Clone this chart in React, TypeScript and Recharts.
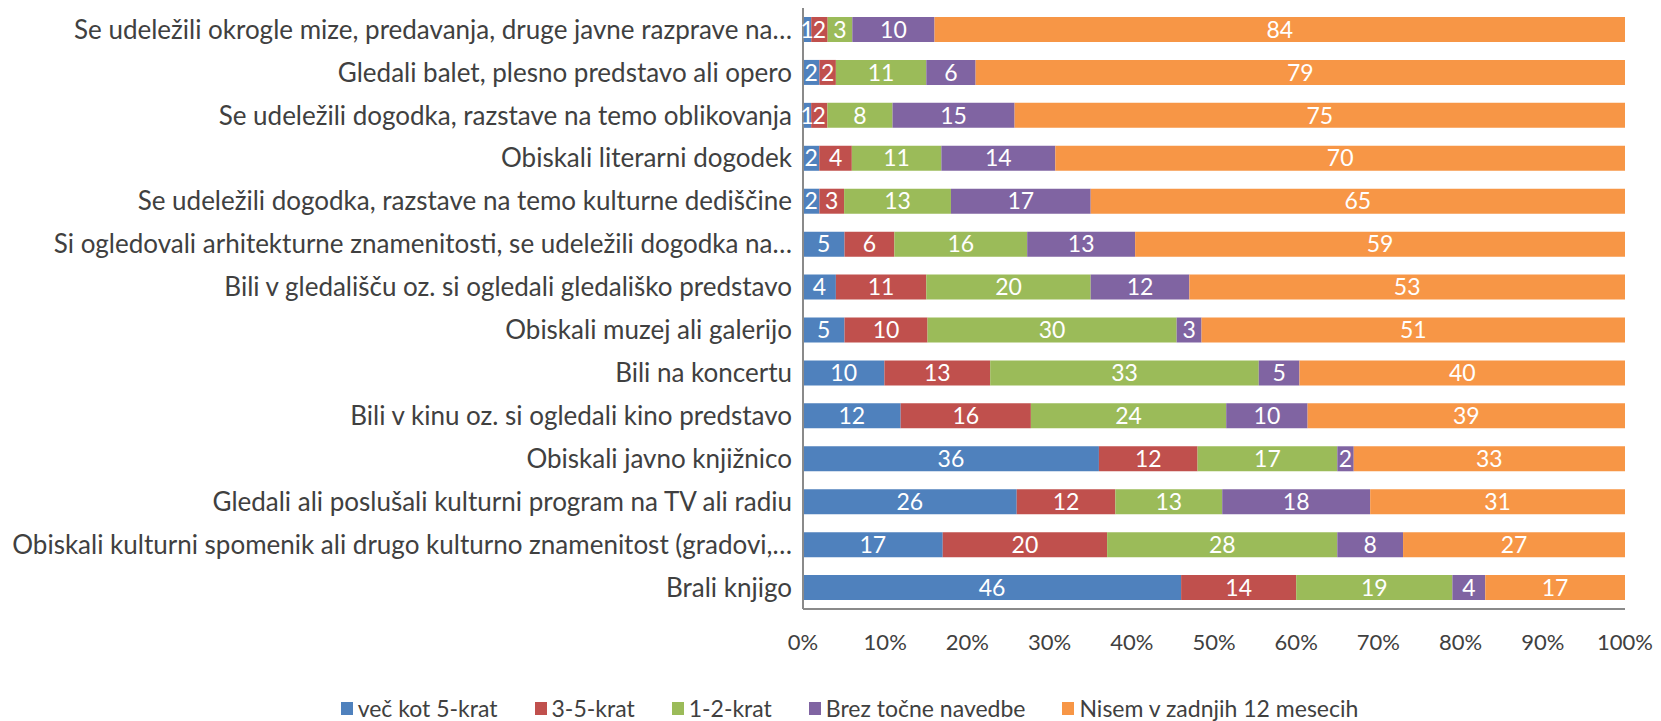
import { BarChart, Bar, XAxis, YAxis, Legend, LabelList } from "recharts"

const categories = [
  "Se udeležili okrogle mize, predavanja, druge javne razprave na…",
  "Gledali balet, plesno predstavo ali opero",
  "Se udeležili dogodka, razstave na temo oblikovanja",
  "Obiskali literarni dogodek",
  "Se udeležili dogodka, razstave na temo kulturne dediščine",
  "Si ogledovali arhitekturne znamenitosti, se udeležili dogodka na…",
  "Bili v gledališču oz. si ogledali gledališko predstavo",
  "Obiskali muzej ali galerijo",
  "Bili na koncertu",
  "Bili v kinu oz. si ogledali kino predstavo",
  "Obiskali javno knjižnico",
  "Gledali ali poslušali kulturni program na TV ali radiu",
  "Obiskali kulturni spomenik ali drugo kulturno znamenitost (gradovi,…",
  "Brali knjigo",
]

const vecKot5 = [1, 2, 1, 2, 2, 5, 4, 5, 10, 12, 36, 26, 17, 46]
const tri5 = [2, 2, 2, 4, 3, 6, 11, 10, 13, 16, 12, 12, 20, 14]
const ena2 = [3, 11, 8, 11, 13, 16, 20, 30, 33, 24, 17, 13, 28, 19]
const brez = [10, 6, 15, 14, 17, 13, 12, 3, 5, 10, 2, 18, 8, 4]
const nisem = [84, 79, 75, 70, 65, 59, 53, 51, 40, 39, 33, 31, 27, 17]

const xTicks = [0, 0.1, 0.2, 0.3, 0.4, 0.5, 0.6, 0.7, 0.8, 0.9, 1]

const series = [
  { key: "vecKot5", name: "več kot 5-krat", color: "#4F81BD" },
  { key: "tri5", name: "3-5-krat", color: "#C0504D" },
  { key: "ena2", name: "1-2-krat", color: "#9BBB59" },
  { key: "brez", name: "Brez točne navedbe", color: "#8064A2" },
  { key: "nisem", name: "Nisem v zadnjih 12 mesecih", color: "#F79646" },
]

const data = categories.map((name, i) => ({
  name,
  vecKot5: vecKot5[i],
  tri5: tri5[i],
  ena2: ena2[i],
  brez: brez[i],
  nisem: nisem[i],
}))

const FONT = "Lato, 'Open Sans', sans-serif"
const TEXT = "#404040"

export default function App() {
  // legend drawn by hand: small squares + names
  const renderLegend = () => (
    <div
      style={{
        display: "flex",
        justifyContent: "center",
        gap: 37,
        paddingLeft: 30,
        fontFamily: FONT,
        fontSize: 23,
        color: TEXT,
        height: 26,
        alignItems: "center",
      }}
    >
      {series.map((s) => (
        <div key={s.key} style={{ display: "flex", alignItems: "center", gap: 5 }}>
          <span style={{ width: 12, height: 13, background: s.color, display: "inline-block" }} />
          <span>{s.name}</span>
        </div>
      ))}
    </div>
  )

  return (
    <BarChart
      width={1653}
      height={713}
      data={data}
      layout="vertical"
      stackOffset="expand"
      margin={{ top: 0, right: 36, left: 0, bottom: 0 }}
    >
      <XAxis
        type="number"
        domain={[0, 1]}
        ticks={xTicks}
        tickFormatter={(v: number) => `${Math.round(v * 100)}%`}
        axisLine={{ stroke: "#8a8a8a", strokeWidth: 2 }}
        tickLine={false}
        tickSize={0}
        tickMargin={25}
        height={86}
        interval={0}
        tick={{ fill: TEXT, fontSize: 22, fontFamily: FONT }}
      />
      <YAxis
        type="category"
        dataKey="name"
        width={795}
        axisLine={{ stroke: "#8a8a8a", strokeWidth: 2 }}
        tickLine={false}
        tickSize={0}
        tickMargin={11}
        interval={0}
        tick={{ fill: TEXT, fontSize: 26, fontFamily: FONT }}
      />
      <Legend verticalAlign="bottom" content={renderLegend} wrapperStyle={{ left: 0, width: 1653 }} />
      {series.map((s) => (
        <Bar
          key={s.key}
          dataKey={s.key}
          name={s.name}
          stackId="a"
          fill={s.color}
          barSize={25}
          isAnimationActive={false}
        >
          <LabelList
            dataKey={s.key}
            position="center"
            fill="#ffffff"
            fontSize={23}
            fontFamily={FONT}
          />
        </Bar>
      ))}
    </BarChart>
  )
}
